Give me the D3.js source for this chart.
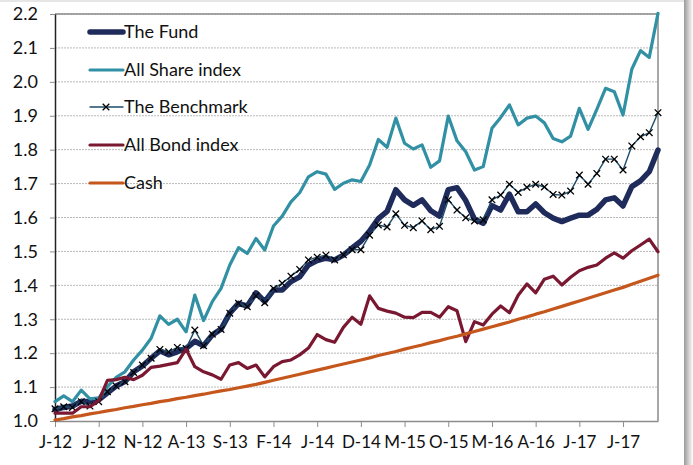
<!DOCTYPE html>
<html><head><meta charset="utf-8">
<script src="https://cdn.jsdelivr.net/npm/d3@7"></script>
<style>
html,body{margin:0;padding:0;background:#fff;}
svg{display:block;}
text{font-family:Lato,"Open Sans",sans-serif;fill:#111;}
</style></head>
<body>
<svg id="chart" width="693" height="465"></svg>
<script>
// ---- data (monthly, Jan 2012 .. Oct 2017) ----
const xTickLabels = ["J-12","J-12","N-12","A-13","S-13","F-14","J-14","D-14","M-15","O-15","M-16","A-16","J-17","J-17"];
const yTickValues = [1.0,1.1,1.2,1.3,1.4,1.5,1.6,1.7,1.8,1.9,2.0,2.1,2.2];
const seriesNames = ["The Fund","All Share index","The Benchmark","All Bond index","Cash"];

const fund = [1.034,1.040,1.044,1.058,1.057,1.062,1.083,1.103,1.116,1.145,1.162,1.185,1.207,1.195,1.204,1.214,
  1.235,1.222,1.254,1.271,1.318,1.347,1.339,1.378,1.352,1.386,1.386,1.411,1.425,1.460,1.473,1.480,1.475,1.489,
  1.510,1.530,1.560,1.597,1.618,1.682,1.652,1.636,1.652,1.620,1.604,1.682,1.688,1.650,1.595,1.583,1.635,1.622,
  1.669,1.617,1.617,1.640,1.614,1.598,1.588,1.598,1.607,1.607,1.624,1.652,1.658,1.634,1.691,1.708,1.735,1.799];
const allShare = [1.057,1.074,1.057,1.091,1.065,1.068,1.101,1.129,1.145,1.180,1.209,1.244,1.310,1.285,1.300,1.263,
  1.371,1.296,1.352,1.391,1.460,1.511,1.494,1.538,1.504,1.575,1.604,1.646,1.673,1.720,1.735,1.728,1.683,1.701,
  1.711,1.706,1.755,1.830,1.807,1.893,1.819,1.802,1.814,1.748,1.767,1.899,1.826,1.794,1.740,1.750,1.863,1.895,
  1.932,1.873,1.893,1.899,1.879,1.833,1.823,1.840,1.922,1.860,1.919,1.981,1.971,1.902,2.037,2.092,2.072,2.202];
const benchmark = [1.036,1.042,1.040,1.057,1.044,1.057,1.086,1.103,1.116,1.143,1.165,1.185,1.211,1.204,1.217,1.214,
  1.268,1.222,1.256,1.270,1.318,1.347,1.337,1.369,1.349,1.391,1.406,1.427,1.447,1.475,1.483,1.489,1.475,1.490,
  1.505,1.505,1.548,1.578,1.572,1.611,1.577,1.570,1.590,1.564,1.574,1.652,1.622,1.599,1.590,1.593,1.652,1.666,
  1.698,1.674,1.689,1.698,1.690,1.668,1.666,1.678,1.725,1.698,1.730,1.772,1.772,1.740,1.811,1.838,1.850,1.909];
const allBond = [1.023,1.023,1.023,1.042,1.042,1.060,1.120,1.122,1.129,1.122,1.135,1.158,1.162,1.167,1.172,1.212,
  1.160,1.145,1.136,1.123,1.165,1.172,1.155,1.165,1.130,1.160,1.175,1.180,1.195,1.215,1.255,1.240,1.232,1.276,
  1.306,1.285,1.369,1.332,1.324,1.318,1.306,1.305,1.320,1.320,1.306,1.337,1.325,1.234,1.293,1.283,1.315,1.339,
  1.319,1.371,1.404,1.378,1.418,1.427,1.401,1.424,1.443,1.453,1.460,1.480,1.496,1.480,1.502,1.519,1.536,1.499];
const cash = [1.003,1.007,1.012,1.016,1.021,1.025,1.030,1.034,1.039,1.043,1.048,1.052,1.057,1.061,1.066,1.070,
  1.075,1.079,1.084,1.089,1.093,1.098,1.103,1.108,1.114,1.120,1.126,1.132,1.138,1.144,1.150,1.156,1.162,1.168,
  1.174,1.180,1.186,1.193,1.199,1.205,1.212,1.218,1.224,1.231,1.237,1.244,1.250,1.257,1.264,1.271,1.278,1.285,
  1.292,1.300,1.307,1.315,1.322,1.330,1.338,1.346,1.354,1.362,1.370,1.378,1.386,1.394,1.403,1.412,1.421,1.430];

const months = d3.timeMonth.range(new Date(2012,0,1), new Date(2017,10,1));

(function(){
// ---- layout ----
const svg = d3.select("#chart");
const pL = 55, pR = 658, pT = 14, pB = 421;
const x = d3.scalePoint().domain(months.map((d,i)=>i)).range([pL, pR]);
const y = d3.scaleLinear().domain([1.0, 2.2]).range([pB, pT]);

// frame shadow on the right / top
const defs = svg.append("defs");
const g1 = defs.append("linearGradient").attr("id","shR").attr("x1","0").attr("x2","1");
g1.append("stop").attr("offset","0").attr("stop-color","#9a9a9a");
g1.append("stop").attr("offset","1").attr("stop-color","#ffffff");
svg.append("rect").attr("x",684).attr("y",0).attr("width",9).attr("height",465).attr("fill","url(#shR)");
svg.append("rect").attr("x",0).attr("y",0).attr("width",684).attr("height",2).attr("fill","#e6e6e6");

// gridlines
svg.append("g").selectAll("line").data(yTickValues.slice(1)).join("line")
  .attr("x1", pL).attr("x2", pR)
  .attr("y1", d=>y(d)).attr("y2", d=>y(d))
  .attr("stroke", "#b8b8b8").attr("stroke-width", 1).attr("stroke-dasharray","2,1");

// plot border (top & right)
svg.append("path").attr("d",`M${pL},${pT}H${pR}V${pB}`)
  .attr("fill","none").attr("stroke","#8c8c8c").attr("stroke-width",1.5);

// x axis
const tickIdx = xTickLabels.map((d,i)=>i*5);
const xAxis = d3.axisBottom(x).tickValues(tickIdx).tickFormat((d,i)=>xTickLabels[i]).tickSize(6).tickSizeOuter(0);
const gx = svg.append("g").attr("transform",`translate(0,${pB})`).call(xAxis);
gx.select(".domain").attr("stroke","#8c8c8c").attr("stroke-width",1.5);
gx.selectAll(".tick line").attr("stroke","#8c8c8c");
gx.selectAll("text").attr("font-size",17).attr("dy","1.05em").style("font-family","Lato,sans-serif").attr("fill","#111");

// y axis
const yAxis = d3.axisLeft(y).tickValues(yTickValues).tickFormat(d3.format(".1f")).tickSize(5).tickSizeOuter(0);
const gy = svg.append("g").attr("transform",`translate(${pL},0)`).call(yAxis);
gy.select(".domain").attr("stroke","#222").attr("stroke-width",1.5);
gy.selectAll(".tick line").attr("stroke","#8c8c8c");
gy.selectAll("text").attr("font-size",18).attr("x",-17).style("font-family","Lato,sans-serif").attr("fill","#111");

// series
const colors = ["#1f2b5b","#3190a4","#1d4d6b","#7a1832","#c5571c"];
const widths = [5.5,3.2,1.4,3.2,3.2];
const data = [fund, allShare, benchmark, allBond, cash];
const line = d3.line().x((d,i)=>x(i)).y(d=>y(d)).curve(d3.curveLinear);
const plot = svg.append("g");
data.forEach((s,k)=>{
  plot.append("path").datum(s).attr("d", line)
    .attr("fill","none").attr("stroke",colors[k]).attr("stroke-width",widths[k])
    .attr("stroke-linejoin","round").attr("stroke-linecap","round");
  if (k===2) {
    plot.append("g").selectAll("path").data(s).join("path")
      .attr("d",(d,i)=>{const cx=x(i), cy=y(d), r=3.3; return `M${cx-r},${cy-r}L${cx+r},${cy+r}M${cx-r},${cy+r}L${cx+r},${cy-r}`;})
      .attr("stroke","#000").attr("stroke-width",1.3);
  }
});

// legend
const legY = [32,70,107,145,183];
const lg = svg.append("g");
seriesNames.forEach((n,k)=>{
  lg.append("line").attr("x1",90).attr("x2",123).attr("y1",legY[k]).attr("y2",legY[k])
    .attr("stroke",colors[k]).attr("stroke-width", k===0?5.5:(k===2?1.4:3.2)).attr("stroke-linecap","round");
  if (k===2) {
    const cx=106, cy=legY[k], r=3.3;
    lg.append("path").attr("d",`M${cx-r},${cy-r}L${cx+r},${cy+r}M${cx-r},${cy+r}L${cx+r},${cy-r}`)
      .attr("stroke","#000").attr("stroke-width",1.3);
  }
  lg.append("text").attr("x",124).attr("y",legY[k]).attr("dy","0.36em").attr("font-size",18).text(n);
});
})();
</script>
</body></html>
